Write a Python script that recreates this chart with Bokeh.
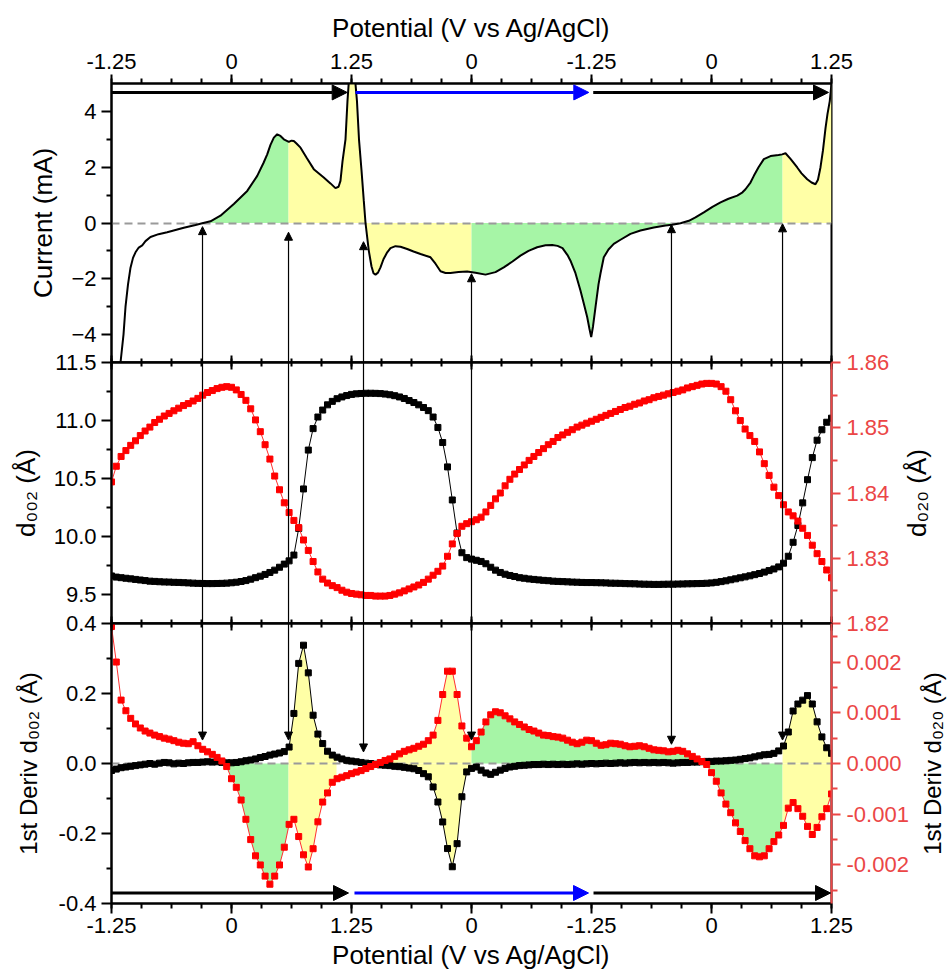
import numpy as np
from bokeh.plotting import figure
from bokeh.layouts import column
from bokeh.models import (Range1d, LinearAxis, FixedTicker, Arrow, NormalHead, Span, Label,
                          ColumnDataSource, NumeralTickFormatter, CustomJSTickFormatter)
from bokeh.embed import file_html
from bokeh.resources import INLINE

# ---------------- data ----------------
# x axis: potential traversed along the scan (V); labels give the actual potential
x_major = [0, 1.25, 2.5, 3.75, 5.0, 6.25, 7.5]
x_labels = ["-1.25", "0", "1.25", "0", "-1.25", "0", "1.25"]
x_minor = [0.3125 * k for k in range(25)]

# Current (mA) vs scan position
cur_x = [0.06, 0.094, 0.125, 0.146, 0.172, 0.198, 0.224, 0.25, 0.284, 0.32, 0.354, 0.406, 0.49, 0.58,
         0.753, 0.875, 0.945, 1.031, 1.135, 1.274, 1.414, 1.518, 1.583, 1.622, 1.656, 1.691, 1.726,
         1.76, 1.795, 1.847, 1.875, 1.899, 1.927, 1.969, 2.031, 2.107, 2.211, 2.281, 2.333, 2.365,
         2.385, 2.406, 2.4375, 2.458, 2.479, 2.505, 2.531, 2.557, 2.578, 2.604, 2.628, 2.646, 2.68,
         2.708, 2.729, 2.75, 2.776, 2.802, 2.833, 2.872, 2.906, 2.958, 3.01, 3.08, 3.146, 3.219,
         3.323, 3.375, 3.427, 3.479, 3.531, 3.615, 3.705, 3.792, 3.896, 4.0, 4.086, 4.177, 4.26,
         4.344, 4.434, 4.521, 4.591, 4.646, 4.698, 4.75, 4.781, 4.833, 4.885, 4.917, 4.955, 4.979,
         4.997, 5.016, 5.042, 5.073, 5.094, 5.128, 5.177, 5.232, 5.302, 5.406, 5.51, 5.649, 5.771,
         5.84, 5.927, 6.014, 6.083, 6.17, 6.26, 6.344, 6.427, 6.518, 6.573, 6.604, 6.656, 6.691,
         6.74, 6.795, 6.865, 6.948, 6.986, 7.021, 7.073, 7.143, 7.188, 7.247, 7.292, 7.333, 7.359,
         7.385, 7.411, 7.438, 7.458, 7.482, 7.5]
cur_y = [-6.0, -5.0, -4.0, -3.0, -2.2, -1.6, -1.25, -1.05, -0.88, -0.8, -0.65, -0.5, -0.4, -0.33,
         -0.17, -0.07, -0.01, 0.06, 0.26, 0.68, 1.15, 1.69, 2.15, 2.46, 2.8, 3.06, 3.18,
         3.12, 3.0, 2.91, 2.95, 2.94, 2.85, 2.7, 2.35, 1.93, 1.63, 1.42, 1.25, 1.3,
         1.51, 2.2, 3.0, 4.37, 5.4, 6.0, 5.4, 4.37, 3.0, 1.9, 0.8, 0.0, -0.99,
         -1.55, -1.8, -1.85, -1.78, -1.59, -1.3, -1.05, -0.9, -0.83, -0.85, -0.93, -1.02, -1.11,
         -1.23, -1.46, -1.73, -1.79, -1.79, -1.76, -1.74, -1.78, -1.85, -1.76, -1.59, -1.38, -1.17,
         -1.0, -0.87, -0.8, -0.79, -0.82, -0.9, -1.15, -1.35, -1.8, -2.42, -2.85, -3.37, -3.8,
         -4.09, -3.7, -3.01, -2.2, -1.8, -1.23, -0.95, -0.75, -0.6, -0.39, -0.27, -0.16, -0.09,
         -0.06, -0.01, 0.08, 0.2, 0.38, 0.58, 0.74, 0.87, 0.98, 1.1, 1.21, 1.45, 1.69,
         2.0, 2.29, 2.4, 2.44, 2.46, 2.5, 2.3, 1.99, 1.78, 1.57, 1.45, 1.39, 1.55,
         1.99, 2.6, 3.41, 3.9, 4.37, 5.0]

# XRD scan points (one every 0.05 V of scan)
scan_x = [round(0.05 * i, 2) for i in range(151)]

d002 = [9.66, 9.65, 9.645, 9.64, 9.635, 9.63, 9.625, 9.62, 9.615, 9.613, 9.61, 9.608, 9.607, 9.605,
        9.604, 9.602, 9.6, 9.598, 9.596, 9.595, 9.594, 9.594, 9.595, 9.596, 9.598, 9.601, 9.606,
        9.612, 9.62, 9.632, 9.645, 9.658, 9.673, 9.69, 9.71, 9.735, 9.762, 9.79, 9.84, 10.07, 10.41,
        10.745, 10.93, 11.03, 11.09, 11.135, 11.165, 11.188, 11.203, 11.215, 11.225, 11.23, 11.233,
        11.235, 11.235, 11.234, 11.232, 11.228, 11.222, 11.214, 11.203, 11.19, 11.172, 11.155,
        11.135, 11.112, 11.085, 11.03, 10.94, 10.81, 10.6, 10.315, 10.03, 9.86, 9.818, 9.805, 9.795,
        9.785, 9.765, 9.735, 9.71, 9.69, 9.675, 9.664, 9.655, 9.645, 9.64, 9.634, 9.63, 9.626, 9.622,
        9.619, 9.615, 9.613, 9.611, 9.609, 9.607, 9.606, 9.604, 9.603, 9.603, 9.602, 9.601, 9.6,
        9.598, 9.597, 9.596, 9.594, 9.593, 9.592, 9.59, 9.589, 9.588, 9.587, 9.587, 9.588, 9.589,
        9.589, 9.59, 9.591, 9.592, 9.593, 9.594, 9.595, 9.597, 9.6, 9.605, 9.611, 9.618, 9.627,
        9.635, 9.644, 9.652, 9.661, 9.671, 9.681, 9.693, 9.706, 9.72, 9.738, 9.77, 9.83, 9.95,
        10.095, 10.29, 10.49, 10.68, 10.83, 10.92, 10.985, 11.02]

d020 = [1.8417, 1.8441, 1.8456, 1.8465, 1.8473, 1.8480, 1.8488, 1.8495, 1.8501, 1.8508, 1.8513,
        1.8518, 1.8522, 1.8526, 1.8530, 1.8534, 1.8537, 1.8541, 1.8545, 1.8550, 1.8554, 1.8557,
        1.8560, 1.8562, 1.8563, 1.8562, 1.8558, 1.8551, 1.8542, 1.8529, 1.8512, 1.8494, 1.8474,
        1.8452, 1.8426, 1.8405, 1.8385, 1.8370, 1.8358, 1.8347, 1.8328, 1.8312, 1.8295, 1.8279,
        1.8268, 1.8262, 1.8258, 1.8255, 1.8251, 1.8248, 1.8246, 1.8245, 1.8244, 1.8243, 1.8243,
        1.8242, 1.8242, 1.8242, 1.8243, 1.8245, 1.8247, 1.8250, 1.8253, 1.8256, 1.8259, 1.8263,
        1.8268, 1.8274, 1.8280, 1.8288, 1.8303, 1.8322, 1.8338, 1.8349, 1.8353, 1.8356, 1.8359,
        1.8363, 1.8371, 1.8381, 1.8391, 1.8400, 1.8411, 1.8421, 1.8429, 1.8436, 1.8443, 1.8450,
        1.8456, 1.8462, 1.8468, 1.8474, 1.8479, 1.8485, 1.8489, 1.8493, 1.8497, 1.8501, 1.8504,
        1.8507, 1.8510, 1.8513, 1.8516, 1.8519, 1.8522, 1.8525, 1.8528, 1.8531, 1.8533, 1.8536,
        1.8538, 1.8541, 1.8543, 1.8546, 1.8548, 1.8550, 1.8552, 1.8554, 1.8556, 1.8558, 1.8561,
        1.8563, 1.8565, 1.8567, 1.8568, 1.8568, 1.8567, 1.8563, 1.8556, 1.8543, 1.8526, 1.8511,
        1.8498, 1.8488, 1.8479, 1.8463, 1.8445, 1.8427, 1.8409, 1.8396, 1.8382, 1.8371, 1.8365,
        1.8357, 1.8346, 1.8335, 1.8320, 1.8307, 1.8295, 1.8282, 1.8270]

deriv002 = [-0.02, -0.016, -0.012, -0.01, -0.008, -0.006, -0.004, -0.002, 0.0, -0.002, 0.001, 0.003,
            0.002, -0.001, 0.001, 0.0, 0.002, 0.003, 0.003, 0.004, 0.005, 0.004, 0.005, 0.003, 0.002,
            0.002, 0.003, 0.005, 0.008, 0.01, 0.013, 0.017, 0.02, 0.024, 0.027, 0.03, 0.034, 0.047,
            0.143, 0.286, 0.338, 0.259, 0.138, 0.084, 0.057, 0.035, 0.024, 0.018, 0.013, 0.009, 0.007,
            0.005, 0.003, 0.001, 0.0, -0.002, -0.004, -0.005, -0.006, -0.008, -0.009, -0.011, -0.013,
            -0.015, -0.02, -0.029, -0.038, -0.067, -0.11, -0.167, -0.243, -0.295, -0.229, -0.095,
            -0.024, -0.014, -0.01, -0.019, -0.027, -0.031, -0.025, -0.019, -0.014, -0.01, -0.008,
            -0.006, -0.005, -0.004, -0.003, -0.003, -0.002, -0.003, -0.002, -0.003, -0.002, -0.003,
            -0.002, -0.001, -0.002, -0.001, 0.0, -0.001, 0.0, 0.001, 0.0, 0.001, 0.002, 0.001, 0.002,
            0.003, 0.002, 0.003, 0.002, 0.003, 0.002, 0.003, 0.002, 0.001, 0.002, 0.003, 0.003, 0.004,
            0.004, 0.005, 0.006, 0.006, 0.007, 0.007, 0.008, 0.009, 0.01, 0.012, 0.014, 0.016, 0.019,
            0.022, 0.025, 0.026, 0.029, 0.036, 0.05, 0.09, 0.15, 0.17, 0.181, 0.194, 0.17, 0.119,
            0.076, 0.045, 0.029]

deriv020 = [0.0027, 0.0020, 0.00125, 0.00104, 0.00089, 0.00078, 0.0007, 0.00064, 0.0006, 0.00056,
            0.00053, 0.0005, 0.00048, 0.00045, 0.00042, 0.0004, 0.00039, 0.00043, 0.00035, 0.00028,
            0.00023, 0.00018, 0.00012, 0.00005, -0.00006, -0.0003, -0.00047, -0.00072, -0.0011,
            -0.0015, -0.00182, -0.002, -0.00222, -0.00238, -0.00222, -0.002, -0.00165, -0.0012,
            -0.0011, -0.00144, -0.0018, -0.00204, -0.00168, -0.00115, -0.00076, -0.00058, -0.00037,
            -0.0003, -0.00027, -0.00024, -0.0002, -0.00017, -0.00014, -0.0001, -0.00006, -0.00002,
            0.00002, 0.00006, 0.00009, 0.00014, 0.00019, 0.00024, 0.00027, 0.0003, 0.00034, 0.00038,
            0.00045, 0.00056, 0.00085, 0.00136, 0.00182, 0.00182, 0.00136, 0.00074, 0.0005, 0.00033,
            0.00045, 0.00062, 0.00082, 0.00096, 0.00102, 0.001, 0.00094, 0.00088, 0.00082, 0.00077,
            0.00072, 0.00067, 0.00064, 0.0006, 0.00056, 0.00055, 0.00053, 0.00052, 0.0005, 0.00046,
            0.00042, 0.00039, 0.00042, 0.00046, 0.00045, 0.0004, 0.00036, 0.00037, 0.0004, 0.00039,
            0.00038, 0.00035, 0.00033, 0.00034, 0.00035, 0.00033, 0.0003, 0.00027, 0.00026, 0.00025,
            0.00023, 0.00024, 0.00026, 0.00024, 0.00019, 0.00014, 0.00009, 0.00004, -0.00002,
            -0.00018, -0.00035, -0.00058, -0.0008, -0.00097, -0.00117, -0.00134, -0.00152, -0.00168,
            -0.00182, -0.00184, -0.00182, -0.00168, -0.00154, -0.00141, -0.00122, -0.00088, -0.00077,
            -0.00089, -0.00104, -0.00124, -0.0014, -0.00126, -0.00105, -0.00089, -0.0006]

# guide arrows (scan position) and where their heads sit
arrow_x = [0.948, 1.844, 2.625, 3.75, 5.833, 6.99]
arrow_tip_top = [-0.13, -0.33, -0.67, -1.82, -0.06, -0.03]
arrow_tip_bottom = [0.067, 0.067, 0.033, 0.067, 0.055, 0.067]

# shaded intervals (scan position)
cur_fills = [(0.948, 1.844, "green"), (1.844, 3.75, "yellow"), (3.75, 6.99, "green"), (6.99, 7.5, "yellow")]
black_fills = [(1.844, 2.344, "yellow"), (2.802, 3.75, "yellow"), (6.99, 7.5, "yellow")]
red_fills = [(1.156, 1.844, "green"), (1.844, 2.344, "yellow"), (2.802, 3.75, "yellow"),
             (3.75, 6.99, "green"), (6.99, 7.5, "yellow")]

# ---------------- style ----------------
FONT = "Liberation Sans"
TICK_FS = "22px"
LABEL_FS = "26px"
DERIV_FS = "24px"
RED_AX = "#EB4646"
COLORS = {"green": "#A6F5A6", "yellow": "#FFFFA6"}
E = 15  # overlap border between stacked panels

x_ticker = FixedTicker(ticks=x_major, minor_ticks=x_minor)
x_fmt = CustomJSTickFormatter(args=dict(pos=x_major, lab=x_labels), code="""
    for (let i = 0; i < pos.length; i++) { if (Math.abs(tick - pos[i]) < 1e-6) return lab[i]; }
    return "";
""")
blank_fmt = CustomJSTickFormatter(code="return '';")
x_range = Range1d(0, 7.5)


def style_axis(ax, color="black", tick_out=10, minor_out=5):
    ax.axis_line_color = color
    ax.axis_line_width = 2
    ax.major_tick_line_color = color
    ax.minor_tick_line_color = color
    ax.major_tick_line_width = 2
    ax.minor_tick_line_width = 2
    ax.major_tick_in = 0
    ax.minor_tick_in = 0
    ax.major_tick_out = tick_out
    ax.minor_tick_out = minor_out
    ax.major_label_text_font = FONT
    ax.major_label_text_font_size = TICK_FS
    ax.major_label_text_color = color
    ax.axis_label_text_font = FONT
    ax.axis_label_text_font_size = LABEL_FS
    ax.axis_label_text_font_style = "normal"
    ax.axis_label_text_color = "black"


def edge_axis(p, side):
    ax = LinearAxis(ticker=x_ticker, formatter=blank_fmt, axis_label=None,
                    major_tick_in=7, major_tick_out=0, minor_tick_in=4, minor_tick_out=0,
                    major_label_text_font_size="0px", major_label_standoff=0,
                    axis_line_width=2, major_tick_line_width=2, minor_tick_line_width=2)
    p.add_layout(ax, side)


def make_fig(frame_h, y_range, b_top, b_bottom, x_loc):
    p = figure(frame_width=720, frame_height=frame_h, x_range=x_range, y_range=y_range,
               x_axis_location=x_loc, output_backend="svg", toolbar_location=None,
               min_border_left=111, min_border_right=117,
               min_border_top=b_top, min_border_bottom=b_bottom)
    p.grid.visible = False
    p.outline_line_color = "black"
    p.outline_line_width = 2
    p.border_fill_color = None
    p.background_fill_color = "white"
    return p


def interval(xs, ys, a, b):
    xs = np.asarray(xs, dtype=float)
    ys = np.asarray(ys, dtype=float)
    m = (xs > a) & (xs < b)
    fx = np.concatenate([[a], xs[m], [b]])
    fy = np.concatenate([[np.interp(a, xs, ys)], ys[m], [np.interp(b, xs, ys)]])
    return fx, fy


def hline_arrows(p, y, segs):
    for (x0, x1, col) in segs:
        p.add_layout(Arrow(x_start=x0, y_start=y, x_end=x1, y_end=y, line_color=col, line_width=3,
                           end=NormalHead(size=15, fill_color=col, line_color=col)))


def potential_axis(ax, tick_out, label_standoff, title_standoff):
    style_axis(ax, tick_out=tick_out, minor_out=5)
    ax.ticker = x_ticker
    ax.formatter = x_fmt
    ax.axis_label = "Potential (V vs Ag/AgCl)"
    ax.major_label_standoff = label_standoff
    ax.axis_label_standoff = title_standoff


def right_title(p, text, sx, sy, size):
    # title of the right-hand axis, reading bottom-to-top as in the original
    p.add_layout(Label(x=sx, y=sy, x_units="screen", y_units="screen", text=text,
                       angle=90, angle_units="deg", text_align="center", text_baseline="middle",
                       text_font=FONT, text_font_size=size, text_color="black"), "right")


# ---------------- panel 1: current ----------------
p1 = make_fig(279, Range1d(-5, 5), 83, E, "above")
potential_axis(p1.above[0], 9, 6, 8)
edge_axis(p1, "below")
ay = p1.left[0]
style_axis(ay)
ay.ticker = FixedTicker(ticks=[-4, -2, 0, 2, 4], minor_ticks=[-3, -1, 1, 3])
ay.axis_label = "Current (mA)"
ay.major_label_standoff = 5
ay.axis_label_standoff = 10

for a, b, c in cur_fills:
    fx, fy = interval(cur_x, cur_y, a, b)
    p1.varea(x=fx, y1=np.zeros_like(fx), y2=fy, fill_color=COLORS[c])
p1.hspan(y=[0], line_color="#9A9A9A", line_width=2, line_dash="8 5")
p1.line(cur_x, cur_y, line_color="black", line_width=2)
hline_arrows(p1, 4.68, [(0, 2.455, "black"), (2.542, 4.972, "#0000FF"), (5.018, 7.469, "black")])
src_top = ColumnDataSource(dict(x=arrow_x, y0=[-5] * len(arrow_x), y1=arrow_tip_top))
p1.add_layout(Arrow(source=src_top, x_start="x", y_start="y0", x_end="x", y_end="y1",
                    line_color="black", line_width=1.2,
                    end=NormalHead(size=8, fill_color="black", line_color="black")))

# ---------------- panel 2: d-spacings ----------------
p2 = make_fig(261, Range1d(9.25, 11.5), E, E, None)
p2.margin = (-2 * E, 0, 0, 0)
p2.extra_y_ranges = {"right": Range1d(1.82, 1.86)}
edge_axis(p2, "above")
edge_axis(p2, "below")
ay = p2.left[0]
style_axis(ay)
ay.ticker = FixedTicker(ticks=[9.5, 10.0, 10.5, 11.0, 11.5], minor_ticks=[9.75, 10.25, 10.75, 11.25])
ay.formatter = NumeralTickFormatter(format="0.0")
ay.axis_label = "d₀₀₂ (Å)"
ay.major_label_standoff = 5
ay.axis_label_standoff = 10
ar = LinearAxis(y_range_name="right")
style_axis(ar, color=RED_AX, tick_out=9, minor_out=6)
ar.ticker = FixedTicker(ticks=[1.82, 1.83, 1.84, 1.85, 1.86], minor_ticks=[1.825, 1.835, 1.845, 1.855])
ar.formatter = NumeralTickFormatter(format="0.00")
ar.major_label_standoff = 6
p2.add_layout(ar, "right")
right_title(p2, "d₀₂₀ (Å)", 24, 130.5, LABEL_FS)

p2.line(scan_x, d002, line_color="black", line_width=1)
p2.scatter(scan_x, d002, marker="square", size=6, fill_color="black", line_color="black")
p2.line(scan_x, d020, line_color="#FF3030", line_width=1, y_range_name="right")
p2.scatter(scan_x, d020, marker="square", size=6, fill_color="#FF0000", line_color="#FF0000",
           y_range_name="right")
for xv in arrow_x:
    p2.add_layout(Span(location=xv, dimension="height", line_color="black", line_width=1.2))

# ---------------- panel 3: first derivatives ----------------
p3 = make_fig(280, Range1d(-0.4, 0.4), E, 70, "below")
p3.margin = (-2 * E, 0, 0, 0)
p3.extra_y_ranges = {"right": Range1d(-0.00276, 0.00276)}
potential_axis(p3.below[0], 10, 4, 4)
edge_axis(p3, "above")
ay = p3.left[0]
style_axis(ay)
ay.ticker = FixedTicker(ticks=[-0.4, -0.2, 0.0, 0.2, 0.4], minor_ticks=[-0.3, -0.1, 0.1, 0.3])
ay.formatter = NumeralTickFormatter(format="0.0")
ay.axis_label = "1st Deriv d₀₀₂ (Å)"
ay.axis_label_text_font_size = DERIV_FS
ay.major_label_standoff = 5
ay.axis_label_standoff = 14
ar = LinearAxis(y_range_name="right")
style_axis(ar, color=RED_AX, tick_out=9, minor_out=6)
ar.ticker = FixedTicker(ticks=[-0.002, -0.001, 0.0, 0.001, 0.002],
                        minor_ticks=[-0.0025, -0.0015, -0.0005, 0.0005, 0.0015, 0.0025])
ar.formatter = NumeralTickFormatter(format="0.000")
ar.major_label_standoff = 6
p3.add_layout(ar, "right")
right_title(p3, "1st Deriv d₀₂₀ (Å)", 21, 140, DERIV_FS)

for a, b, c in black_fills:
    fx, fy = interval(scan_x, deriv002, a, b)
    p3.varea(x=fx, y1=np.zeros_like(fx), y2=fy, fill_color=COLORS[c])
for a, b, c in red_fills:
    fx, fy = interval(scan_x, deriv020, a, b)
    p3.varea(x=fx, y1=np.zeros_like(fx), y2=fy, fill_color=COLORS[c], y_range_name="right")
p3.hspan(y=[0], line_color="#9A9A9A", line_width=2, line_dash="8 5")
p3.line(scan_x, deriv002, line_color="black", line_width=1)
p3.scatter(scan_x, deriv002, marker="square", size=6, fill_color="black", line_color="black")
p3.line(scan_x, deriv020, line_color="#FF3030", line_width=1, y_range_name="right")
p3.scatter(scan_x, deriv020, marker="square", size=6, fill_color="#FF0000", line_color="#FF0000",
           y_range_name="right")
hline_arrows(p3, -0.37, [(0, 2.469, "black"), (2.531, 4.969, "#0000FF"), (5.021, 7.49, "black")])
src_bot = ColumnDataSource(dict(x=arrow_x, y0=[0.4] * len(arrow_x), y1=arrow_tip_bottom))
p3.add_layout(Arrow(source=src_bot, x_start="x", y_start="y0", x_end="x", y_end="y1",
                    line_color="black", line_width=1.2,
                    end=NormalHead(size=8, fill_color="black", line_color="black")))

layout = column(p1, p2, p3, spacing=0)
open("out.html", "w").write(file_html(layout, INLINE))
